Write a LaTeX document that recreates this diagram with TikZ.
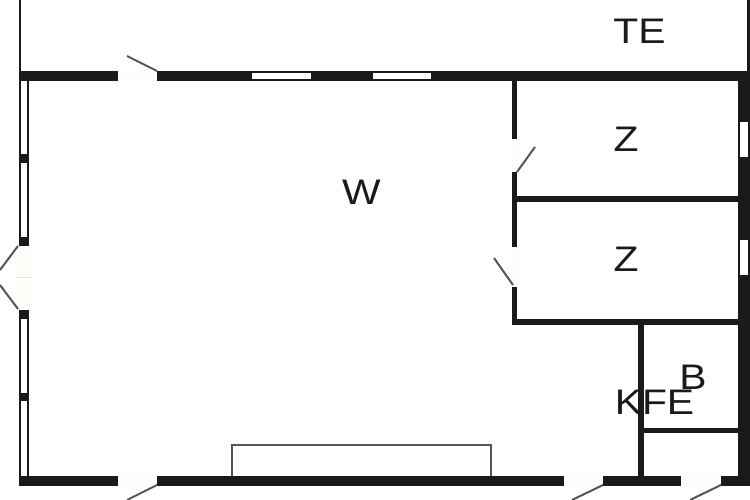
\documentclass[tikz,border=0pt]{standalone}
\usepackage{fontspec}
\setmainfont[FakeStretch=1.15]{Liberation Sans}
\definecolor{wallcol}{HTML}{1A1A1A}
\definecolor{gapcol}{HTML}{FDFDFA}
\definecolor{leafcol}{HTML}{555555}
\tikzset{
	wall/.style={fill=wallcol, draw=none},
	opening/.style={fill=gapcol, draw=none},
	pane/.style={fill=white, draw=none},
	leaf/.style={line width=0.2mm, color=leafcol},
	room/.style={inner sep=0, text=wallcol, font=\fontsize{10.1}{12}\selectfont}
}

\begin{document}
\begin{tikzpicture}[x=0.01cm, y=-0.01cm]
		%%%%% START %%%%%
		\useasboundingbox (0, 0) rectangle (750, 500);
		
		\fill[wall] (19, 0) rectangle (21.5, 72);
		\fill[wall] (747.5, 0) rectangle (750, 72);
		
		\fill[wall] (19, 71) rectangle (750, 81);
		\fill[wall] (19, 476) rectangle (750, 486);
		\fill[wall] (738, 71) rectangle (750, 486);
		
		\fill[wall] (19, 71) rectangle (21.5, 486);
		\fill[wall] (27, 71) rectangle (29.5, 486);
		
		\fill[wall] (19, 154) rectangle (29.5, 163);
		\fill[wall] (19, 237) rectangle (29.5, 246);
		\fill[wall] (19, 310) rectangle (29.5, 319);
		\fill[wall] (19, 393) rectangle (29.5, 401);
		
		\fill[opening] (17, 246) rectangle (31, 310);
		\draw[line width=0.1mm, color=black!12] (17, 278) -- (31, 278);
		\draw[leaf] (18, 246) -- (0, 270);
		\draw[leaf] (0, 285) -- (18, 309);
		
		\fill[opening] (118, 70) rectangle (157, 82);
		\draw[leaf] (157, 71) -- (127, 56);
		
		\fill[pane] (252, 73) rectangle (311, 79);
		\fill[pane] (373, 73) rectangle (431, 79);
		
		\fill[wall] (512, 80) rectangle (517.5, 325);
		\fill[wall] (512, 196) rectangle (739, 202);
		\fill[wall] (512, 319.5) rectangle (739, 325);
		
		\fill[opening] (511, 139) rectangle (519, 172);
		\draw[leaf] (517, 172) -- (535, 147);
		\fill[opening] (511, 247) rectangle (519, 287);
		\draw[leaf] (513, 285) -- (494, 258);
		
		\fill[pane] (740, 122) rectangle (748, 157);
		\fill[pane] (740, 240) rectangle (748, 275);
		
		\fill[wall] (638, 325) rectangle (644, 477);
		\fill[wall] (644, 428) rectangle (739, 433.5);
		
		\draw[line width=0.2mm, color=leafcol] (232, 476) -- (232, 445.5) -- (491, 445.5) -- (491, 476);
		
		\fill[opening] (118, 475) rectangle (157, 487);
		\draw[leaf] (157, 485) -- (127, 500);
		\fill[opening] (564, 475) rectangle (603, 487);
		\draw[leaf] (603, 485) -- (572, 500);
		\fill[opening] (681, 475) rectangle (721, 487);
		\draw[leaf] (721, 485) -- (690, 500);
		
		\node[room] (terrace) at (639.5, 31) {TE};
		\node[room] (living) at (361.5, 192) {W};
		\node[room] (roomA) at (626, 139) {Z};
		\node[room] (roomB) at (626, 259) {Z};
		\node[room] (bath) at (693, 377) {B};
		\node[room] (kitchen) at (654.5, 402) {KFE};
		
		%%%%% END %%%%%
	\end{tikzpicture}
\end{document}
